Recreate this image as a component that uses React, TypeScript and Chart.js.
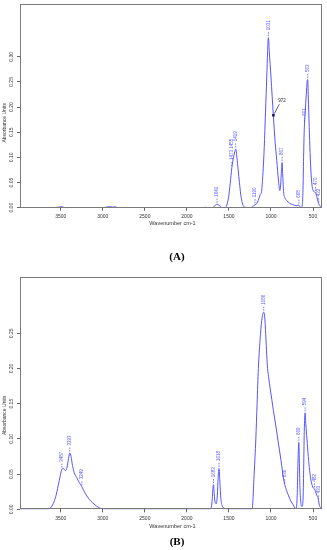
import React, { useEffect, useRef } from "react";
import { Chart, registerables } from "chart.js";
Chart.register(...registerables);

const FONT = "'Liberation Sans', Arial, sans-serif";
const LINE = "#5555ff";
const X_MIN = 393;
const X_MAX = 3985;

const xTickValues = [3500, 3000, 2500, 2000, 1500, 1000, 500];
const yTickValuesA = [0, 0.05, 0.1, 0.15, 0.2, 0.25, 0.3];
const yTickValuesB = [0, 0.05, 0.1, 0.15, 0.2, 0.25];

// Spectrum A
const wavenumbersA = [
  3985, 3600, 3530, 3500, 3470, 3440, 3000, 2960, 2925, 2880, 2855, 2830,
  1800, 1780, 1760, 1700, 1680, 1660, 1641, 1620, 1600, 1580,
  1545, 1525, 1505, 1485, 1465, 1445, 1430, 1419, 1405, 1390, 1375, 1360, 1345, 1330, 1310,
  1260, 1230, 1205, 1190, 1170, 1150, 1130, 1110, 1095, 1080, 1065, 1050, 1040, 1031,
  1020, 1000, 972, 950, 931, 911, 895, 885, 875, 867, 860, 850, 835, 810, 780, 740, 700,
  680, 668, 655, 640, 628, 620, 612, 605, 601, 593, 580, 570, 563, 556, 545, 535, 522,
  510, 495, 480, 470, 455, 440, 432, 420, 393,
];
const absorbanceA = [
  0, 0, 0.001, 0.002, 0.001, 0, 0, 0.001, 0.002, 0.001, 0.002, 0,
  0, 0.001, 0, 0, 0.002, 0.005, 0.007, 0.005, 0.002, 0,
  0, 0.005, 0.02, 0.048, 0.08, 0.1, 0.112, 0.117, 0.1, 0.075, 0.05, 0.027, 0.012, 0.004, 0.001,
  0, 0.001, 0.004, 0.006, 0.008, 0.015, 0.025, 0.035, 0.07, 0.12, 0.19, 0.26, 0.31, 0.338,
  0.31, 0.26, 0.184, 0.13, 0.094, 0.055, 0.034, 0.045, 0.075, 0.09, 0.065, 0.032, 0.02, 0.014, 0.009, 0.006, 0.004,
  0.005, 0.005, 0.002, 0, 0.005, 0.03, 0.1, 0.15, 0.168, 0.19, 0.225, 0.25, 0.255, 0.22, 0.16, 0.11, 0.065,
  0.042, 0.033, 0.031, 0.03, 0.022, 0.012, 0.008, 0.004, 0.002,
];
const peakWavenumbersA = [1641, 1465, 1419, 1190, 1031, 867, 668, 601, 563, 470, 432];
const peakLabelsA = ["1641", "1473 1455", "1419", "1190", "1031", "867", "668", "601", "563", "470", "432"];
const calloutWavenumberA = 972;
const calloutLabelA = "972";

// Spectrum B
const wavenumbersB = [
  3985, 3650, 3620, 3590, 3560, 3530, 3505, 3487, 3470, 3445, 3425, 3408, 3393, 3378, 3360, 3340,
  3310, 3280, 3249, 3220, 3190, 3160, 3120, 3080, 3040, 3000, 2960,
  1880, 1870, 1860, 1730, 1710, 1698, 1690, 1683, 1675, 1665, 1650, 1638, 1628, 1618, 1608, 1596, 1580, 1560, 1530,
  1250, 1225, 1200, 1180, 1165, 1150, 1130, 1110, 1098, 1086, 1075, 1062, 1050, 1040, 1025, 1010, 990, 971, 940,
  912, 890, 871, 850, 836, 815, 793, 765, 734, 715, 700,
  688, 680, 672, 669, 663, 655, 645, 630, 620, 612, 604, 594, 585, 572, 556, 540, 525, 510,
  495, 482, 470, 455, 440, 433, 425, 415, 393,
];
const absorbanceB = [
  0, 0, 0.002, 0.008, 0.018, 0.034, 0.048, 0.057, 0.058, 0.055, 0.06, 0.072, 0.08, 0.075, 0.062, 0.052,
  0.045, 0.038, 0.032, 0.025, 0.019, 0.014, 0.009, 0.005, 0.002, 0.0005, 0,
  0, 0.001, 0, 0, 0.003, 0.015, 0.03, 0.035, 0.022, 0.01, 0.008, 0.02, 0.045, 0.058, 0.04, 0.015, 0.005, 0.002, 0,
  0, 0, 0.05, 0.1, 0.15, 0.2, 0.24, 0.268, 0.277, 0.28, 0.274, 0.248, 0.218, 0.2, 0.185, 0.172, 0.156, 0.14, 0.117,
  0.094, 0.077, 0.061, 0.043, 0.035, 0.027, 0.02, 0.012, 0.006, 0.002, 0.001,
  0.02, 0.06, 0.09, 0.095, 0.07, 0.03, 0.01, 0.004, 0.01, 0.05, 0.11, 0.137, 0.12, 0.1, 0.075, 0.055, 0.042, 0.034,
  0.03, 0.029, 0.025, 0.02, 0.016, 0.012, 0.006, 0.003, 0,
];
const peakWavenumbersB = [3487, 3393, 3249, 1683, 1618, 1086, 836, 669, 594, 482, 433];
const peakLabelsB = ["3487", "3393", "3249", "1683", "1618", "1086", "836", "669", "594", "482", "433"];

type Props = {
  top: number;
  height: number;
  wavenumbers: number[];
  absorbance: number[];
  yMax: number;
  yTicks: number[];
  peakWns: number[];
  peakLabels: string[];
  callout?: { wn: number; label: string };
  padTop: number;
  padBottom: number;
  yTitleOffset: number;
  xTitleOffset: number;
  panel: string;
  panelY: number;
};

function SpectrumChart(p: Props) {
  const ref = useRef<HTMLCanvasElement | null>(null);
  useEffect(() => {
    if (!ref.current) return;
    const pts = p.wavenumbers.map((w, i) => ({ x: w, y: p.absorbance[i] }));
    const valueAt = (w: number) => {
      let best = 0;
      let bd = Infinity;
      p.wavenumbers.forEach((x, i) => {
        const d = Math.abs(x - w);
        if (d < bd) {
          bd = d;
          best = i;
        }
      });
      return p.absorbance[best];
    };
    const decor = {
      id: "decor",
      afterDraw(chart: any) {
        const { ctx, chartArea: ca, scales } = chart;
        const xs = scales.x;
        const ys = scales.y;
        ctx.save();
        // frame
        ctx.strokeStyle = "#7a7a7a";
        ctx.lineWidth = 1;
        ctx.strokeRect(
          Math.round(ca.left) + 0.5,
          Math.round(ca.top) + 0.5,
          Math.round(ca.right - ca.left) - 1,
          Math.round(ca.bottom - ca.top) - 1
        );
        // y tick labels
        ctx.fillStyle = "#333";
        ctx.font = `5px ${FONT}`;
        p.yTicks.forEach((v) => {
          const y = ys.getPixelForValue(v);
          ctx.save();
          ctx.translate(12, y);
          ctx.rotate(-Math.PI / 2);
          ctx.textAlign = "center";
          ctx.textBaseline = "middle";
          ctx.fillText(v.toFixed(2), 0, 0);
          ctx.restore();
        });
        // y title
        ctx.save();
        ctx.font = `5px ${FONT}`;
        ctx.translate(5, (ca.top + ca.bottom) / 2 + p.yTitleOffset);
        ctx.rotate(-Math.PI / 2);
        ctx.textAlign = "center";
        ctx.textBaseline = "middle";
        ctx.fillText("Absorbance Units", 0, 0);
        ctx.restore();
        // x title
        ctx.font = `5.5px ${FONT}`;
        ctx.textAlign = "center";
        ctx.textBaseline = "middle";
        ctx.fillText("Wavenumber cm-1", 172.5, ca.bottom + p.xTitleOffset);
        // peak labels
        ctx.font = `4.5px ${FONT}`;
        ctx.fillStyle = LINE;
        ctx.strokeStyle = LINE;
        ctx.lineWidth = 0.8;
        p.peakWns.forEach((w, i) => {
          const v = valueAt(w);
          const px = xs.getPixelForValue(w);
          const py = ys.getPixelForValue(v);
          ctx.setLineDash([1.5, 1]);
          ctx.beginPath();
          ctx.moveTo(px, py - 1.5);
          ctx.lineTo(px, py - 6.5);
          ctx.stroke();
          ctx.setLineDash([]);
          ctx.save();
          ctx.translate(px, py - 7.5);
          ctx.rotate(-Math.PI / 2);
          ctx.textAlign = "left";
          ctx.textBaseline = "middle";
          ctx.fillText(p.peakLabels[i], 0, 0);
          ctx.restore();
        });
        // callout
        if (p.callout) {
          const v = valueAt(p.callout.wn);
          const px = xs.getPixelForValue(p.callout.wn);
          const py = ys.getPixelForValue(v);
          ctx.fillStyle = "#1a1a66";
          ctx.fillRect(px - 1.2, py - 1.2, 2.6, 2.6);
          ctx.strokeStyle = "#222";
          ctx.lineWidth = 0.7;
          ctx.beginPath();
          ctx.moveTo(px + 1, py - 1.5);
          ctx.lineTo(px + 6, py - 11);
          ctx.stroke();
          ctx.fillStyle = "#222";
          ctx.font = `4.5px ${FONT}`;
          ctx.textAlign = "left";
          ctx.textBaseline = "middle";
          ctx.fillText(p.callout.label, px + 5, py - 14);
        }
        // panel label
        ctx.fillStyle = "#000";
        ctx.font = "bold 11px 'Liberation Serif', 'Times New Roman', serif";
        ctx.textAlign = "center";
        ctx.textBaseline = "middle";
        ctx.fillText(p.panel, 177, p.panelY);
        ctx.restore();
      },
    };
    const chart = new Chart(ref.current, {
      type: "scatter",
      data: {
        datasets: [
          {
            data: pts,
            showLine: true,
            borderColor: LINE,
            borderWidth: 1,
            pointRadius: 0,
            cubicInterpolationMode: "monotone",
            fill: false,
          } as any,
        ],
      },
      options: {
        responsive: false,
        animation: false,
        devicePixelRatio: 1,
        layout: { padding: { left: 0, right: 5, top: p.padTop, bottom: p.padBottom } },
        plugins: { legend: { display: false }, tooltip: { enabled: false } },
        scales: {
          x: {
            type: "linear",
            reverse: true,
            min: X_MIN,
            max: X_MAX,
            afterBuildTicks: (s: any) => {
              s.ticks = xTickValues.map((v) => ({ value: v }));
            },
            afterFit: (s: any) => {
              s.height = 24;
            },
            grid: { drawOnChartArea: false, drawTicks: true, tickLength: 3, color: "#666" },
            border: { display: false },
            ticks: {
              autoSkip: false,
              maxRotation: 0,
              minRotation: 0,
              padding: 3,
              color: "#333",
              font: { size: 5, family: FONT },
              callback: (v: any) => String(v),
            },
          },
          y: {
            type: "linear",
            min: 0,
            max: p.yMax,
            afterBuildTicks: (s: any) => {
              s.ticks = p.yTicks.map((v) => ({ value: v }));
            },
            afterFit: (s: any) => {
              s.width = 20;
            },
            grid: { drawOnChartArea: false, drawTicks: true, tickLength: 3, color: "#666" },
            border: { display: false },
            ticks: { display: false },
          },
        },
      } as any,
      plugins: [decor],
    });
    return () => chart.destroy();
  }, []);
  return (
    <canvas
      ref={ref}
      width={327}
      height={p.height}
      style={{ position: "absolute", left: 0, top: p.top, width: 327, height: p.height }}
    />
  );
}

export default function App() {
  return (
    <div style={{ position: "absolute", left: 0, top: 0, width: 327, height: 550, background: "#fff" }}>
      <SpectrumChart
        top={0}
        height={270}
        wavenumbers={wavenumbersA}
        absorbance={absorbanceA}
        yMax={0.405}
        yTicks={yTickValuesA}
        peakWns={peakWavenumbersA}
        peakLabels={peakLabelsA}
        callout={{ wn: calloutWavenumberA, label: calloutLabelA }}
        padTop={4}
        padBottom={38.3}
        yTitleOffset={17}
        xTitleOffset={16}
        panel="(A)"
        panelY={257}
      />
      <SpectrumChart
        top={270}
        height={280}
        wavenumbers={wavenumbersB}
        absorbance={absorbanceB}
        yMax={0.3295}
        yTicks={yTickValuesB}
        peakWns={peakWavenumbersB}
        peakLabels={peakLabelsB}
        padTop={7.3}
        padBottom={16.7}
        yTitleOffset={22}
        xTitleOffset={17}
        panel="(B)"
        panelY={271.7}
      />
    </div>
  );
}
